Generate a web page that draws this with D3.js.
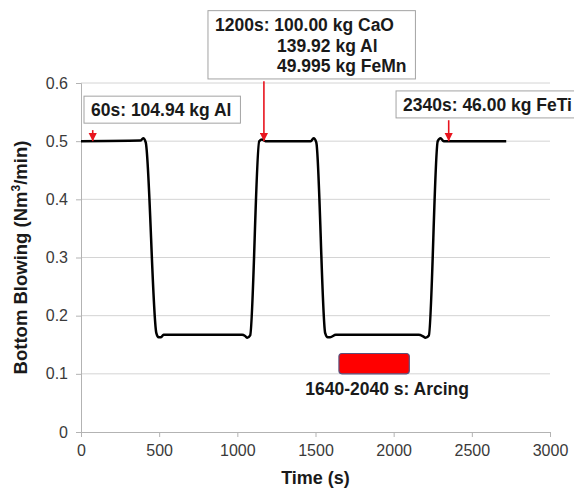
<!DOCTYPE html>
<html>
<head>
<meta charset="utf-8">
<script src="https://cdn.jsdelivr.net/npm/d3@7"></script>
<style>
  html, body { margin: 0; padding: 0; background: #fff; }
  svg { display: block; font-family: "Liberation Sans", Arial, sans-serif; }
</style>
</head>
<body>
<div class="chart"></div>
<script>
// bottom blowing flow over time
const timeS = [0, 380, 398, 414, 482, 496, 512, 528, 1030, 1050, 1064, 1082, 1140, 1158, 1180,
  1470, 1488, 1505, 1562, 1578, 1594, 1630, 2160, 2185, 2204, 2225, 2282, 2300, 2320, 2720]
const blowing = [0.5, 0.501, 0.505, 0.498, 0.17, 0.163, 0.163, 0.167, 0.167, 0.165, 0.162, 0.166, 0.5, 0.503, 0.5,
  0.5, 0.505, 0.498, 0.17, 0.163, 0.163, 0.167, 0.167, 0.165, 0.162, 0.166, 0.5, 0.505, 0.5, 0.5]
const xTicks = [0, 500, 1000, 1500, 2000, 2500, 3000]
const yTicks = [0, 0.1, 0.2, 0.3, 0.4, 0.5, 0.6]
// arcing period bar
const arcTime = [1650, 2100]
const arcLevel = [0.1, 0.135]
const arcLabel = "1640-2040 s: Arcing"
// additions: arrow time, arrow start level, text lines
const addTime = [75, 1170, 2352]
const addFrom = [0.519, 0.603, 0.536]
const addLines = [
  ["60s: 104.94 kg Al"],
  ["1200s: 100.00 kg CaO", "139.92 kg Al", "49.995 kg FeMn"],
  ["2340s: 46.00 kg FeTi"]
]
// text anchors in data units [time, level] for each line
const addAnchors = [
  [[64, 0.543]],
  [[857, 0.690], [1254, 0.654], [1254, 0.619]],
  [[2060, 0.552]]
]

let width = 574, height = 493
let svg = d3.select(".chart").append("svg")
  .attr("width", width)
  .attr("height", height)

let x = d3.scaleLinear().domain([0, 3000]).range([81, 550])
let y = d3.scaleLinear().domain([0, 0.6]).range([432, 83])

//网格线
svg.append("g")
  .selectAll("line")
  .data(yTicks.filter(d => d > 0))
  .enter()
  .append("line")
  .attr("x1", x(0)).attr("x2", x(3000))
  .attr("y1", d => y(d)).attr("y2", d => y(d))
  .attr("stroke", "#d4d4d4")
  .attr("stroke-width", 1)

//坐标轴
let xAxis = svg.append("g")
  .attr("transform", `translate(0,${y(0)})`)
  .call(d3.axisBottom(x).tickValues(xTicks).tickSize(5).tickPadding(8).tickFormat(d3.format("d")))
let yAxis = svg.append("g")
  .attr("transform", `translate(${x(0)},0)`)
  .call(d3.axisLeft(y).tickValues(yTicks).tickSize(5).tickPadding(8).tickFormat(d => d === 0 ? "0" : d3.format(".1f")(d)))
;[xAxis, yAxis].forEach(a => {
  a.select(".domain").attr("stroke", "#b3b3b3")
  a.selectAll(".tick line").attr("stroke", "#b3b3b3")
  a.selectAll(".tick text")
    .attr("fill", "#3a3a3a")
    .attr("font-size", 16)
    .attr("font-family", "Liberation Sans, Arial, sans-serif")
})

//轴标题
svg.append("text")
  .attr("x", (x(0) + x(3000)) / 2)
  .attr("y", 484)
  .attr("text-anchor", "middle")
  .attr("font-size", 18)
  .attr("font-weight", "bold")
  .attr("fill", "#1a1a1a")
  .text("Time (s)")
let yTitle = svg.append("text")
  .attr("transform", `translate(27,${(y(0) + y(0.6)) / 2}) rotate(-90)`)
  .attr("text-anchor", "middle")
  .attr("font-size", 18.5)
  .attr("font-weight", "bold")
  .attr("fill", "#1a1a1a")
yTitle.append("tspan").text("Bottom Blowing (Nm")
yTitle.append("tspan").attr("font-size", 12).attr("dy", -7).text("3")
yTitle.append("tspan").attr("dy", 7).text("/min)")

//曲线
let line = d3.line()
  .x((d, i) => x(timeS[i]))
  .y(d => y(d))
  .curve(d3.curveMonotoneX)
svg.append("path")
  .datum(blowing)
  .attr("d", line)
  .attr("fill", "none")
  .attr("stroke", "#000")
  .attr("stroke-width", 2.5)
  .attr("stroke-linejoin", "round")

//arcing 区间
svg.append("rect")
  .attr("x", x(arcTime[0]))
  .attr("y", y(arcLevel[1]))
  .attr("width", x(arcTime[1]) - x(arcTime[0]))
  .attr("height", y(arcLevel[0]) - y(arcLevel[1]))
  .attr("rx", 3)
  .attr("fill", "#ff0000")
  .attr("stroke", "#5b4f7a")
  .attr("stroke-width", 1.2)
svg.append("text")
  .attr("x", x((arcTime[0] + arcTime[1]) / 2) + 13)
  .attr("y", y(0.1) + 21)
  .attr("text-anchor", "middle")
  .attr("font-size", 17.5)
  .attr("font-weight", "bold")
  .attr("fill", "#1a1a1a")
  .text(arcLabel)

//箭头
svg.append("defs").append("marker")
  .attr("id", "head")
  .attr("viewBox", "0 0 10 10")
  .attr("refX", 10).attr("refY", 5)
  .attr("markerWidth", 8.5).attr("markerHeight", 8.5)
  .attr("markerUnits", "userSpaceOnUse")
  .attr("orient", "auto")
  .append("path")
  .attr("d", "M0,0L10,5L0,10Z")
  .attr("fill", "#e8141e")

//标注框
addLines.forEach((lines, k) => {
  let g = svg.append("g")
  let rect = g.append("rect")
  let texts = g.selectAll("text")
    .data(lines)
    .enter()
    .append("text")
    .attr("x", (d, i) => x(addAnchors[k][i][0]))
    .attr("y", (d, i) => y(addAnchors[k][i][1]))
    .attr("font-size", 17.5)
    .attr("font-weight", "bold")
    .attr("fill", "#1a1a1a")
    .text(d => d)
  let bb = g.node().getBBox()
  rect.attr("x", bb.x - 7)
    .attr("y", bb.y - 4)
    .attr("width", bb.width + 16)
    .attr("height", bb.height + 7)
    .attr("fill", "#fff")
    .attr("stroke", "#a3a3a3")
    .attr("stroke-width", 1)
  svg.append("line")
    .attr("x1", x(addTime[k])).attr("x2", x(addTime[k]))
    .attr("y1", y(addFrom[k])).attr("y2", y(0.5))
    .attr("stroke", "#e8141e")
    .attr("stroke-width", 1.6)
    .attr("marker-end", "url(#head)")
})
</script>
</body>
</html>
